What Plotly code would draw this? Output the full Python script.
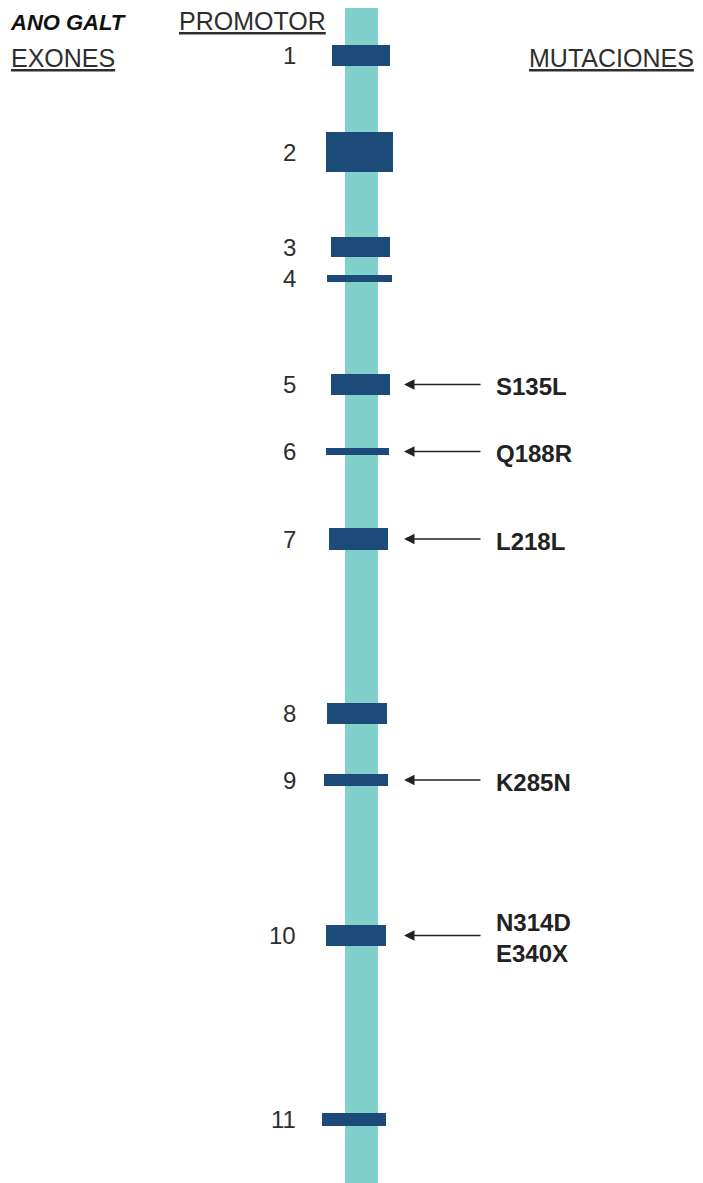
import plotly.graph_objects as go

# ---- data ----
exon_numbers = ["1", "2", "3", "4", "5", "6", "7", "8", "9", "10", "11"]
exon_start = [45, 132, 237, 275, 374, 448, 528, 703, 774, 925, 1113]
exon_end = [66, 172, 257, 282, 395, 455, 550, 724, 786, 946, 1126]
exon_left = [332, 326, 331, 327, 331, 326, 329, 327, 324, 326, 322]
exon_right = [390, 393, 390, 392, 390, 389, 388, 387, 388, 386, 386]

mutation_exon = ["5", "6", "7", "9", "10"]
mutation_labels = ["S135L", "Q188R", "L218L", "K285N", "N314D<br>E340X"]

gene_top = 7
gene_bottom = 1191
gene_left = 345
gene_right = 378

GENE_COLOR = "#80d0cc"
EXON_COLOR = "#1c4a79"
TEXT_COLOR = "#2e2e2e"
FONT = "Liberation Sans, Arial, sans-serif"

# the page shows the figure 8px in from the window edge; shift the axes so
# that axis units equal window pixels
OFF = 8
W, H = 703, 1183

fig = go.Figure()

shapes = [dict(type="rect", xref="x", yref="y", x0=gene_left, x1=gene_right,
               y0=gene_top, y1=gene_bottom, fillcolor=GENE_COLOR, line=dict(width=0),
               layer="below")]
for s, e, l, r in zip(exon_start, exon_end, exon_left, exon_right):
    shapes.append(dict(type="rect", xref="x", yref="y", x0=l, x1=r, y0=s, y1=e,
                       fillcolor=EXON_COLOR, line=dict(width=0)))

annotations = []
for n, s, e in zip(exon_numbers, exon_start, exon_end):
    annotations.append(dict(x=298, y=(s + e) / 2, xref="x", yref="y", text=n,
                            showarrow=False, xanchor="right", yanchor="middle",
                            font=dict(family=FONT, size=24, color=TEXT_COLOR)))

for ex, lab in zip(mutation_exon, mutation_labels):
    i = exon_numbers.index(ex)
    yc = (exon_start[i] + exon_end[i]) / 2
    annotations.append(dict(x=404, y=yc, ax=482, ay=yc, xref="x", yref="y",
                            axref="x", ayref="y", text="", showarrow=True,
                            arrowhead=2, arrowsize=1.5, arrowwidth=1.4,
                            arrowcolor="#222222"))
    annotations.append(dict(x=494, y=yc + 2, xref="x", yref="y", text="<b>" + lab + "</b>",
                            showarrow=False, xanchor="left", yanchor="middle", align="left",
                            font=dict(family=FONT, size=24, color="#222222")))

annotations += [
    dict(x=(128 - OFF) / W, y=1, xref="paper", yref="paper",
         text="<b><i>ANO GALT</i></b>", showarrow=False,
         xanchor="right", yanchor="top", font=dict(family=FONT, size=22, color="#111111")),
    dict(x=177, y=21, xref="x", yref="y", text="<u>PROMOTOR</u>", showarrow=False,
         xanchor="left", yanchor="middle", font=dict(family=FONT, size=25, color=TEXT_COLOR)),
    dict(x=8.5, y=58, xref="x", yref="y", text="<u>EXONES</u>", showarrow=False,
         xanchor="left", yanchor="middle", font=dict(family=FONT, size=25, color=TEXT_COLOR)),
    dict(x=527, y=58, xref="x", yref="y", text="<u>MUTACIONES</u>", showarrow=False,
         xanchor="left", yanchor="middle", font=dict(family=FONT, size=25, color=TEXT_COLOR)),
]

fig.update_layout(
    width=W, height=H,
    margin=dict(l=0, r=0, t=0, b=0),
    paper_bgcolor="white", plot_bgcolor="white",
    xaxis=dict(range=[OFF, W + OFF], visible=False, fixedrange=True),
    yaxis=dict(range=[H + OFF, OFF], visible=False, fixedrange=True),
    shapes=shapes, annotations=annotations, showlegend=False,
)

fig.write_html("out.html")
